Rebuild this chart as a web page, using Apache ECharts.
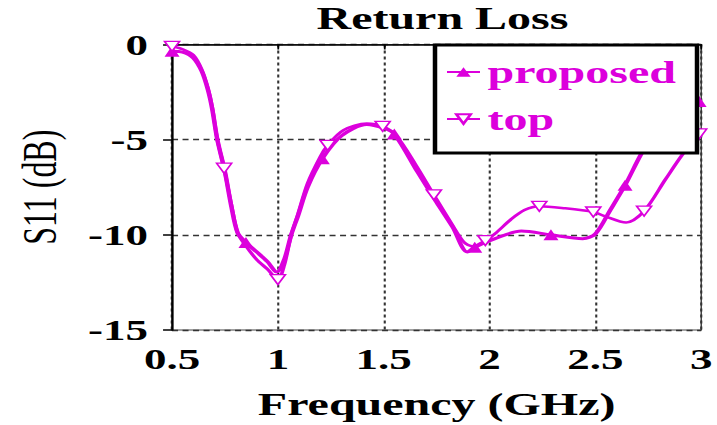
<!DOCTYPE html>
<html>
<head>
<meta charset="utf-8">
<script src="https://cdn.jsdelivr.net/npm/echarts@6/dist/echarts.min.js"></script>
<style>
html,body{margin:0;padding:0;width:717px;height:425px;overflow:hidden;background:#fff;}
#c{width:478px;height:425px;transform:scaleX(1.5);transform-origin:0 0;}
</style>
</head>
<body>
<div id="c"></div>
<script>
// ---- data (frequency GHz, S11 dB) ----
const proposedCurve = [
  [0.5,-0.35],[0.55,-0.4],[0.6,-0.7],[0.64,-1.4],[0.67,-2.4],[0.69,-3.4],[0.714,-5.0],
  [0.75,-6.7],[0.78,-8.5],[0.81,-9.9],[0.849,-10.4],[0.9,-10.9],[0.95,-11.4],[0.995,-11.95],
  [1.03,-11.3],[1.063,-10.0],[1.095,-9.0],[1.14,-7.5],[1.21,-6.0],[1.3,-4.8],[1.42,-4.2],
  [1.5,-4.4],[1.55,-4.7],[1.66,-6.7],[1.75,-8.3],[1.826,-9.6],[1.895,-10.9],[1.93,-10.65],
  [2.026,-10.2],[2.15,-9.8],[2.29,-10.0],[2.44,-10.2],[2.5,-9.95],[2.57,-8.7],[2.64,-7.4],
  [2.714,-5.8],[2.78,-4.6],[2.88,-3.7],[2.99,-3.0]
];
const proposedMarkers = [0.5,0.849,1.21,1.55,1.93,2.29,2.64,2.99];

const topCurve = [
  [0.5,-0.1],[0.55,-0.25],[0.6,-0.55],[0.64,-1.3],[0.67,-2.3],[0.69,-3.3],[0.714,-5.0],
  [0.746,-6.5],[0.78,-8.4],[0.81,-9.9],[0.85,-10.6],[0.9,-11.3],[0.95,-11.8],[1.0,-12.35],
  [1.03,-11.6],[1.063,-10.0],[1.095,-8.9],[1.14,-7.3],[1.2,-5.9],[1.235,-5.3],[1.31,-4.5],
  [1.42,-4.15],[1.495,-4.3],[1.56,-4.8],[1.65,-6.3],[1.737,-7.9],[1.82,-9.4],[1.88,-10.4],
  [1.92,-10.6],[1.98,-10.3],[2.03,-9.9],[2.1,-9.2],[2.165,-8.7],[2.235,-8.5],[2.35,-8.6],
  [2.49,-8.8],[2.54,-9.0],[2.645,-9.35],[2.73,-8.75],[2.83,-7.1],[2.91,-5.8],[2.99,-4.7]
];
const topMarkers = [0.5,0.746,1.0,1.235,1.495,1.737,1.98,2.235,2.49,2.73,2.99];

const xMin = 0.5, xMax = 3, xStep = 0.5;
const yMin = -15, yMax = 0, yStep = 5;
const seriesNames = ['proposed','top'];
const titleText = 'Return Loss';
const xName = 'Frequency (GHz)';
const yName = 'S11 (dB)';

// ---- chart ----
const MAG = '#dc00dc';
const SERIF = '"Liberation Serif","Times New Roman",serif';
function build(curve, marks){
  return curve.map(p => marks.includes(p[0]) ? {value:p} : {value:p, symbol:'none'});
}
const chart = echarts.init(document.getElementById('c'), null, {renderer:'svg'});
chart.setOption({
  animation:false,
  title:{text:titleText,left:211,top:2,padding:0,
    textStyle:{fontFamily:SERIF,fontSize:32,fontWeight:'bold',color:'#000'}},
  legend:{orient:'vertical',left:290,top:45,itemWidth:22,itemHeight:12,itemGap:15,
    padding:[11,14,18,7],backgroundColor:'#fff',borderColor:'#000',borderWidth:3,
    textStyle:{color:MAG,fontSize:32,fontWeight:'bold',fontFamily:SERIF},
    data:seriesNames},
  grid:{left:114.7,right:5.3,top:44.5,bottom:93.5,show:true,borderColor:'#444',borderWidth:1},
  xAxis:{type:'value',min:xMin,max:xMax,interval:xStep,
    name:xName,nameLocation:'middle',nameGap:58,
    nameTextStyle:{fontFamily:SERIF,fontSize:32,fontWeight:'bold',color:'#000'},
    axisLine:{lineStyle:{color:'#000',width:1.5}},
    axisTick:{show:true,length:5,lineStyle:{color:'#000',width:1.2}},
    axisLabel:{margin:14,fontFamily:SERIF,fontSize:30,fontWeight:'bold',color:'#000'},
    splitLine:{show:true,lineStyle:{color:'#333',width:1.4,type:[3,3]}}},
  yAxis:{type:'value',min:yMin,max:yMax,interval:yStep,
    name:yName,nameLocation:'middle',nameGap:72,
    nameTextStyle:{fontFamily:SERIF,fontSize:32,fontWeight:'normal',color:'#000'},
    axisLine:{show:true,lineStyle:{color:'#000',width:1.5}},
    axisTick:{show:true,length:6,lineStyle:{color:'#000',width:1.5}},
    axisLabel:{margin:16,fontFamily:SERIF,fontSize:30,fontWeight:'bold',color:'#000'},
    splitLine:{show:true,lineStyle:{color:'#333',width:1.4,type:[4,3]}}},
  series:[
    {name:seriesNames[0],type:'line',data:build(proposedCurve,proposedMarkers),smooth:0.3,
      clip:false,symbol:'triangle',symbolSize:[10,11],
      lineStyle:{color:MAG,width:3},itemStyle:{color:MAG}},
    {name:seriesNames[1],type:'line',data:build(topCurve,topMarkers),smooth:0.3,
      clip:false,symbol:'path://M0,0L20,0L10,17Z',symbolSize:[10,10],
      lineStyle:{color:MAG,width:2.5},itemStyle:{color:'#fff',borderColor:MAG,borderWidth:1.3}}
  ]
});
</script>
</body>
</html>
